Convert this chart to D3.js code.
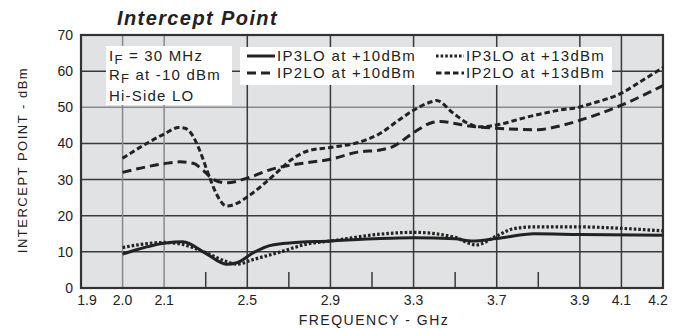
<!DOCTYPE html>
<html><head><meta charset="utf-8">
<script src="https://cdn.jsdelivr.net/npm/d3@7"></script>
<style>
html,body{margin:0;padding:0;background:#fff;}
svg{display:block;}
text{font-family:"Liberation Sans",Arial,Helvetica,sans-serif;fill:#222;}
</style></head><body>
<svg id="c" width="688" height="328"></svg>
<script>
// gridline frequencies (GHz) – the chart's x-axis is not linear
const xBreaks = [1.9,2.0,2.1,2.3,2.5,2.7,2.9,3.1,3.3,3.5,3.7,3.8,3.9,4.1,4.2];
const xTickLabels = ["1.9","2.0","2.1","","2.5","","2.9","","3.3","","3.7","","3.9","4.1","4.2"];
const yTicks = [0,10,20,30,40,50,60,70];

// IP3LO at +10dBm (solid)
const ip3lo10 = [[2.0,9.4],[2.1,12.4],[2.19,12.8],[2.30,9.6],[2.40,6.6],[2.45,7.0],[2.53,9.8],[2.59,11.4],[2.69,12.4],[2.9,13.0],[3.14,13.7],[3.3,13.9],[3.5,13.6],[3.58,13.0],[3.7,13.7],[3.79,15.0],[3.9,14.8],[4.2,14.6]];
// IP3LO at +13dBm (dotted)
const ip3lo13 = [[2.0,11.2],[2.1,12.6],[2.176,12.2],[2.30,9.8],[2.40,7.3],[2.45,6.6],[2.53,7.9],[2.66,10.0],[2.79,12.2],[2.9,13.0],[3.14,14.9],[3.3,15.4],[3.5,14.0],[3.57,12.3],[3.6,11.9],[3.7,14.4],[3.74,16.4],[3.79,16.9],[3.9,16.9],[4.1,16.5],[4.2,15.8]];
// IP2LO at +10dBm (long dash)
const ip2lo10 = [[2.0,32.0],[2.1,34.4],[2.176,34.9],[2.24,34.5],[2.287,32.6],[2.335,30.1],[2.40,29.1],[2.5,30.4],[2.62,32.9],[2.71,34.0],[2.79,34.7],[2.9,35.6],[3.03,37.6],[3.14,38.2],[3.20,39.1],[3.3,43.0],[3.39,45.8],[3.43,46.1],[3.49,45.6],[3.57,44.8],[3.7,44.2],[3.80,43.8],[3.835,44.4],[3.9,46.4],[4.1,50.6],[4.2,56.0]];
// IP2LO at +13dBm (short dash)
const ip2lo13 = [[2.0,35.9],[2.058,40.0],[2.1,42.6],[2.17,44.4],[2.2,44.2],[2.24,41.9],[2.27,38.2],[2.32,30.4],[2.35,26.2],[2.40,22.7],[2.45,23.4],[2.5,25.2],[2.62,30.8],[2.71,35.4],[2.79,37.9],[2.9,38.9],[3.03,40.2],[3.14,42.8],[3.23,46.5],[3.3,49.2],[3.39,51.6],[3.41,51.9],[3.49,48.4],[3.56,45.6],[3.62,44.6],[3.7,45.1],[3.77,47.2],[3.85,49.2],[3.9,50.1],[3.96,51.1],[4.1,53.9],[4.15,57.4],[4.2,61.0]];

const series = [
  {name:"IP3LO at +10dBm", data:ip3lo10, dash:null,  w:3},
  {name:"IP3LO at +13dBm", data:ip3lo13, dash:"2.6,2", w:3.2},
  {name:"IP2LO at +10dBm", data:ip2lo10, dash:"9,5", w:3},
  {name:"IP2LO at +13dBm", data:ip2lo13, dash:"5.5,3", w:3}
];

const svg = d3.select("#c");
const L=81, R=663, T=35, B=288;
const n = xBreaks.length-1;
const x = d3.scaleLinear().domain(xBreaks).range(xBreaks.map((d,i)=>L+i*(R-L)/n));
const y = d3.scaleLinear().domain([0,70]).range([B,T]);

// background
svg.append("rect").attr("x",L).attr("y",T).attr("width",R-L).attr("height",B-T).attr("fill","#e1e2e4");

// horizontal grid
svg.append("g").selectAll("line").data(yTicks.filter(d=>d>0&&d<70)).join("line")
  .attr("x1",L).attr("x2",R).attr("y1",d=>y(d)).attr("y2",d=>y(d))
  .attr("stroke",d=>d===50?"#8a8a8a":"#3a3a3a").attr("stroke-width",1.5);

// vertical grid / short ticks
svg.append("g").selectAll("line").data(xBreaks.slice(1,-1)).join("line")
  .attr("x1",d=>x(d)).attr("x2",d=>x(d))
  .attr("y1",(d,i)=>xTickLabels[i+1]?T:B-16).attr("y2",B)
  .attr("stroke",d=>(d===2.0||d===2.1)?"#888":"#3a3a3a").attr("stroke-width",1.5);

// border
svg.append("rect").attr("x",L).attr("y",T).attr("width",R-L).attr("height",B-T)
  .attr("fill","none").attr("stroke","#333").attr("stroke-width",2.2);

// y tick labels
svg.append("g").selectAll("text").data(yTicks).join("text")
  .attr("x",73).attr("y",d=>y(d)+5).attr("text-anchor","end")
  .style("font-size","14px").text(d=>d);

// x tick labels
svg.append("g").selectAll("text").data(xBreaks.map((d,i)=>({d,l:xTickLabels[i],i})).filter(o=>o.l)).join("text")
  .attr("x",o=>x(o.d)+(o.i===0?6:o.i===n?-5:0)).attr("y",305).attr("text-anchor","middle")
  .style("font-family","'Liberation Sans Narrow','Arial Narrow',sans-serif")
  .style("font-size","14px").text(o=>o.l);

// axis titles
svg.append("text").attr("x",374).attr("y",325).attr("text-anchor","middle")
  .style("font-size","14px").style("letter-spacing","1.5px").text("FREQUENCY - GHz");
svg.append("text").attr("transform","translate(27,160) rotate(-90)").attr("text-anchor","middle")
  .style("font-size","13px").style("letter-spacing","1.5px").text("INTERCEPT POINT - dBm");

// title
svg.append("text").attr("x",117).attr("y",25)
  .style("font-size","20px").style("font-weight","bold").style("font-style","italic")
  .style("letter-spacing","1.4px").text("Intercept Point");

// curves
const line = d3.line().x(d=>x(d[0])).y(d=>y(d[1])).curve(d3.curveMonotoneX);
svg.append("g").selectAll("path").data(series).join("path")
  .attr("d",s=>line(s.data)).attr("fill","none").attr("stroke","#222")
  .attr("stroke-width",s=>s.w).attr("stroke-dasharray",s=>s.dash);

// condition box
svg.append("rect").attr("x",106).attr("y",46).attr("width",126).attr("height",59).attr("fill","#fff");
const cond = svg.append("g").style("font-size","15px").style("letter-spacing","1.2px");
const t1 = cond.append("text").attr("x",109).attr("y",61);
t1.append("tspan").text("I");
t1.append("tspan").attr("dy",3).style("font-size","13px").text("F");
t1.append("tspan").attr("dy",-3).text(" = 30 MHz");
const t2 = cond.append("text").attr("x",109).attr("y",80);
t2.append("tspan").text("R");
t2.append("tspan").attr("dy",3).style("font-size","13px").text("F");
t2.append("tspan").attr("dy",-3).text(" at -10 dBm");
cond.append("text").attr("x",109).attr("y",101).text("Hi-Side LO");

// legend box
svg.append("rect").attr("x",240).attr("y",47).attr("width",372).attr("height",38).attr("fill","#fff");
// order: row1 = IP3LO(+10, +13), row2 = IP2LO(+10, +13)
const lg = svg.append("g").selectAll("g").data(series).join("g")
  .attr("transform",(s,i)=>{const col=i%2, row=Math.floor(i/2);return `translate(${col===0?247:436},${row===0?56:73})`;});
lg.append("line").attr("x1",0).attr("x2",28).attr("y1",0).attr("y2",0)
  .attr("stroke","#222").attr("stroke-width",s=>s.w).attr("stroke-dasharray",s=>s.dash);
lg.append("text").attr("x",30).attr("y",5).style("font-size","15px").style("letter-spacing","1.3px").text(s=>s.name);
</script>
</body></html>
